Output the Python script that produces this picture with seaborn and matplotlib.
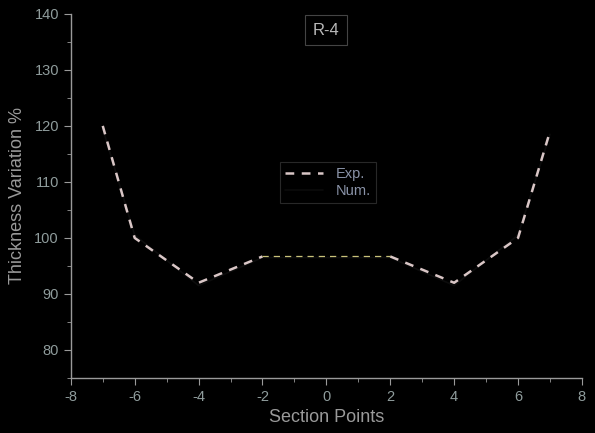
import pandas as pd
import seaborn as sns
import matplotlib.pyplot as plt
from matplotlib.ticker import MultipleLocator

# data
sections = [-7, -6, -4, -2, 0, 2, 4, 6, 7]
exp_vals = [120, 100, 92, 96.7, 96.7, 96.7, 92, 100, 119]
num_vals = [119.5, 100.5, 91.5, 96.5, 96.5, 96.5, 91.5, 100.5, 118.5]

df = pd.DataFrame({"Section": sections, "Exp.": exp_vals, "Num.": num_vals})
left = df[df["Section"] <= -2]
mid = df[(df["Section"] >= -2) & (df["Section"] <= 2)]
right = df[df["Section"] >= 2]

sns.set_style("dark")
plt.rcParams["font.family"] = ["Liberation Sans", "DejaVu Sans"]
plt.rcParams["axes.unicode_minus"] = False

fig, ax = plt.subplots(figsize=(5.95, 4.33), dpi=100)
fig.patch.set_facecolor("black")
ax.set_facecolor("black")
fig.subplots_adjust(left=0.119, right=0.978, bottom=0.127, top=0.968)

grey = "#9a9a9a"
pink = "#d9c6c6"

# numerical line is nearly black on the black background
sns.lineplot(data=df, x="Section", y="Num.", ax=ax, color="#0c0c0c", lw=1.2, label="Num.")
sns.lineplot(data=left, x="Section", y="Exp.", ax=ax, color=pink, lw=1.8, label="Exp.")
ax.lines[-1].set_dashes([3.5, 3])
sns.lineplot(data=right, x="Section", y="Exp.", ax=ax, color=pink, lw=1.8, legend=False)
ax.lines[-1].set_dashes([3.5, 3])
sns.lineplot(data=mid, x="Section", y="Exp.", ax=ax, color="#c9c27a", lw=0.9, legend=False)
ax.lines[-1].set_dashes([5, 4])

ax.set_xlim(-8, 8)
ax.set_ylim(75, 140)
ax.xaxis.set_major_locator(MultipleLocator(2))
ax.xaxis.set_minor_locator(MultipleLocator(1))
ax.set_yticks([80, 90, 100, 110, 120, 130, 140])
ax.yaxis.set_minor_locator(MultipleLocator(5))

for side in ["top", "right"]:
    ax.spines[side].set_visible(False)
for side in ["left", "bottom"]:
    ax.spines[side].set_visible(True)
    ax.spines[side].set_color(grey)
    ax.spines[side].set_linewidth(1)

ax.tick_params(which="major", direction="out", length=5, color=grey,
               labelcolor="#8f9c9c", labelsize=10.5, left=True, bottom=True)
ax.tick_params(which="minor", direction="out", length=3, color=grey, left=True, bottom=True)
ax.grid(False)

ax.set_xlabel("Section Points", color=grey, fontsize=13, labelpad=4)
ax.set_ylabel("Thickness Variation %", color=grey, fontsize=13, labelpad=6)

ax.text(0, 137.1, "R-4", color="#b8b8b8", fontsize=12, ha="center", va="center",
        bbox=dict(boxstyle="square,pad=0.45", fc="black", ec="#444444", lw=0.8))

handles, labels = ax.get_legend_handles_labels()
order = [labels.index("Exp."), labels.index("Num.")]
leg = ax.legend([handles[i] for i in order], [labels[i] for i in order],
                loc="center", bbox_to_anchor=(0.503, 0.537), frameon=True,
                facecolor="black", edgecolor="#333333", fontsize=10.5,
                handlelength=2.6, borderpad=0.35, labelspacing=0.25,
                handletextpad=0.9, fancybox=False)
leg.get_frame().set_linewidth(0.8)
for t in leg.get_texts():
    t.set_color("#8a93a8")

fig.savefig("out.png", dpi=100, facecolor="black")
